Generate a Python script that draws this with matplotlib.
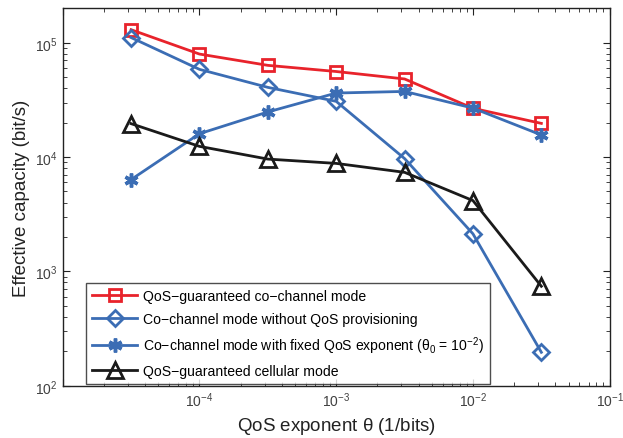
import matplotlib
matplotlib.use("Agg")
import matplotlib.pyplot as plt
from matplotlib.ticker import LogLocator, NullFormatter, FuncFormatter, LogFormatterSciNotation

plt.rcParams['font.family'] = ['Liberation Sans', 'DejaVu Sans']
plt.rcParams['mathtext.fontset'] = 'custom'
plt.rcParams['mathtext.rm'] = 'Liberation Sans'
plt.rcParams['mathtext.it'] = 'Liberation Sans:italic'
plt.rcParams['mathtext.default'] = 'rm'

theta = [10**-4.5, 1e-4, 10**-3.5, 1e-3, 10**-2.5, 1e-2, 10**-1.5]
qos_cochannel = [1.30e5, 7.96e4, 6.34e4, 5.6e4, 4.82e4, 2.67e4, 1.97e4]
cochannel_noqos = [1.11e5, 5.85e4, 4.07e4, 3.07e4, 9.7e3, 2.13e3, 196]
cochannel_fixed = [6.35e3, 1.60e4, 2.48e4, 3.63e4, 3.75e4, 2.68e4, 1.56e4]
qos_cellular = [1.96e4, 1.24e4, 9.6e3, 8.8e3, 7.35e3, 4.16e3, 741]

labels = [
    'QoS\u2212guaranteed co\u2212channel mode',
    'Co\u2212channel mode without QoS provisioning',
    'Co\u2212channel mode with fixed QoS exponent ($\\theta_0$ = 10$^{\\mathrm{\u22122}}$)',
    'QoS\u2212guaranteed cellular mode',
]

red = '#e8232b'
blue = '#3b6db4'
black = '#1a1a1a'

fig = plt.figure(figsize=(6.23, 4.39), dpi=100)
ax = fig.add_axes([0.1006, 0.1191, 0.8781, 0.8597])

lw = 2.0
ax.plot(theta, qos_cochannel, color=red, lw=lw, marker='s', ms=9, mfc='none', mew=2, label=labels[0])
ax.plot(theta, cochannel_noqos, color=blue, lw=lw, marker='D', ms=8.5, mfc='none', mew=2, label=labels[1])
ax.plot(theta, cochannel_fixed, color=blue, lw=lw, marker=(6, 2, 0), ms=10, mew=2.5, label=labels[2])
ax.plot(theta, qos_cellular, color=black, lw=lw, marker='^', ms=11, mfc='none', mew=2, label=labels[3])

ax.set_xscale('log')
ax.set_yscale('log')
ax.set_xlim(1e-5, 1e-1)
ax.set_ylim(1e2, 2e5)

_sci = LogFormatterSciNotation()
def xfmt(v, pos):
    if v < 2e-5:
        return ''
    return _sci(v, pos)

ax.xaxis.set_major_locator(LogLocator(base=10, numticks=10))
ax.xaxis.set_major_formatter(FuncFormatter(xfmt))
ax.xaxis.set_minor_locator(LogLocator(base=10, subs=range(2, 10), numticks=20))
ax.xaxis.set_minor_formatter(NullFormatter())
ax.yaxis.set_minor_locator(LogLocator(base=10, subs=range(2, 10), numticks=20))
ax.yaxis.set_minor_formatter(NullFormatter())

ax.tick_params(which='both', direction='in', top=True, right=True, labelsize=10, colors='#222222', labelcolor='#404040')
ax.tick_params(which='major', length=5, width=0.8)
ax.tick_params(which='minor', length=3, width=0.6)
for s in ax.spines.values():
    s.set_linewidth(1.0)
    s.set_color('#222222')

ax.set_xlabel('QoS exponent $\\theta$ (1/bits)', fontsize=13.5, color='#222222', labelpad=4)
ax.set_ylabel('Effective capacity (bit/s)', fontsize=13.5, color='#222222', labelpad=4)

leg = ax.legend(loc='lower left', bbox_to_anchor=(0.04, 0.0), fontsize=10.1, frameon=True,
                fancybox=False, edgecolor='#222222', handlelength=3.2, borderpad=0.45,
                labelspacing=0.6, handletextpad=0.4, borderaxespad=0.1)
leg.get_frame().set_linewidth(1.0)

fig.savefig('out.png', dpi=100)
